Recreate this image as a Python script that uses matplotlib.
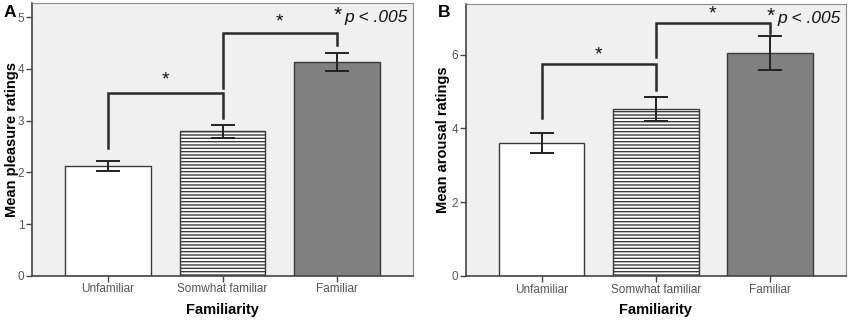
import numpy as np
import matplotlib
matplotlib.use("Agg")
import matplotlib.pyplot as plt

plt.rcParams['font.family'] = ['Liberation Sans', 'DejaVu Sans']
plt.rcParams['hatch.color'] = '#8a8a8a'
plt.rcParams['hatch.linewidth'] = 1.0

categories = ['Unfamiliar', 'Somwhat familiar', 'Familiar']

pleasure_means = [2.12, 2.79, 4.13]
pleasure_err = [0.09, 0.13, 0.17]

arousal_means = [3.60, 4.53, 6.04]
arousal_err = [0.28, 0.32, 0.46]

# brackets: (left x, right x, left foot, top, right foot, star y)
pleasure_brackets = [(0, 1, 2.48, 3.54, 3.05, 3.78),
                     (1, 2, 3.64, 4.70, 4.46, 4.91)]
arousal_brackets = [(0, 1, 4.27, 5.74, 5.04, 6.00),
                    (1, 2, 5.93, 6.85, 6.58, 7.09)]

fig = plt.figure(figsize=(8.5, 3.21), dpi=100)


def draw_panel(rect, means, errs, brackets, ylim, yticks, ylabel, letter, ylabel_x, letter_x):
    ax = fig.add_axes(rect)
    ax.set_facecolor('#f0f0f0')
    x = np.arange(len(categories))
    fills = ['white', 'white', '#808080']
    hatches = [None, '-----', None]
    for xi, m, fc, h in zip(x, means, fills, hatches):
        ax.bar(xi, m, width=0.75, color=fc, edgecolor='#3a3a3a', linewidth=1.0,
               hatch=h, zorder=2)
    ax.errorbar(x, means, yerr=errs, fmt='none', ecolor='#222222', elinewidth=1.4,
                capsize=8.5, capthick=1.4, zorder=3)

    for x0, x1, y0, ytop, y1, ys in brackets:
        ax.plot([x0, x0, x1, x1], [y0, ytop, ytop, y1], color='#2a2a2a', lw=1.8,
                solid_joinstyle='miter', zorder=3)
        ax.text((x0 + x1) / 2, ys, '*', ha='center', va='center', fontsize=14,
                color='#111111')

    ax.set_xlim(-0.665, 2.665)
    ax.set_ylim(*ylim)
    ax.set_yticks(yticks)
    ax.set_xticks(x)
    ax.set_xticklabels(categories)
    ax.tick_params(axis='both', direction='out', length=4, width=1, colors='#444444',
                   labelcolor='#555555', labelsize=8.5, pad=1.5)
    for side in ['top', 'right']:
        ax.spines[side].set_color('#8c8c8c')
    for side in ['left', 'bottom']:
        ax.spines[side].set_color('#444444')
        ax.spines[side].set_linewidth(1.2)

    ax.set_xlabel('Familiarity', fontsize=10.5, fontweight='bold')
    ax.xaxis.set_label_coords(0.5, -0.1)
    ax.set_ylabel(ylabel, fontsize=10.5, fontweight='bold')
    ax.yaxis.set_label_coords(ylabel_x, 0.5)

    ax.text(0.985, 0.975, 'p < .005', transform=ax.transAxes, ha='right',
            va='top', fontsize=12.5, style='italic', color='#111111')
    ax.text(0.813, 0.99, '*', transform=ax.transAxes, ha='right', va='top',
            fontsize=15, color='#111111')
    fig.text(letter_x, 0.961, letter, fontsize=12.5, fontweight='bold', ha='left', va='center')
    return ax


axA = draw_panel([32 / 850, 45.3 / 321, 381 / 850, 272.4 / 321], pleasure_means, pleasure_err,
                 pleasure_brackets, (0, 5.27), [0, 1, 2, 3, 4, 5],
                 'Mean pleasure ratings', 'A', -0.035, 4 / 850)
axB = draw_panel([465.7 / 850, 45 / 321, 380.3 / 850, 272 / 321], arousal_means, arousal_err,
                 arousal_brackets, (0, 7.37), [0, 2, 4, 6],
                 'Mean arousal ratings', 'B', -0.041, 438 / 850)

fig.savefig('out.png', dpi=100)
